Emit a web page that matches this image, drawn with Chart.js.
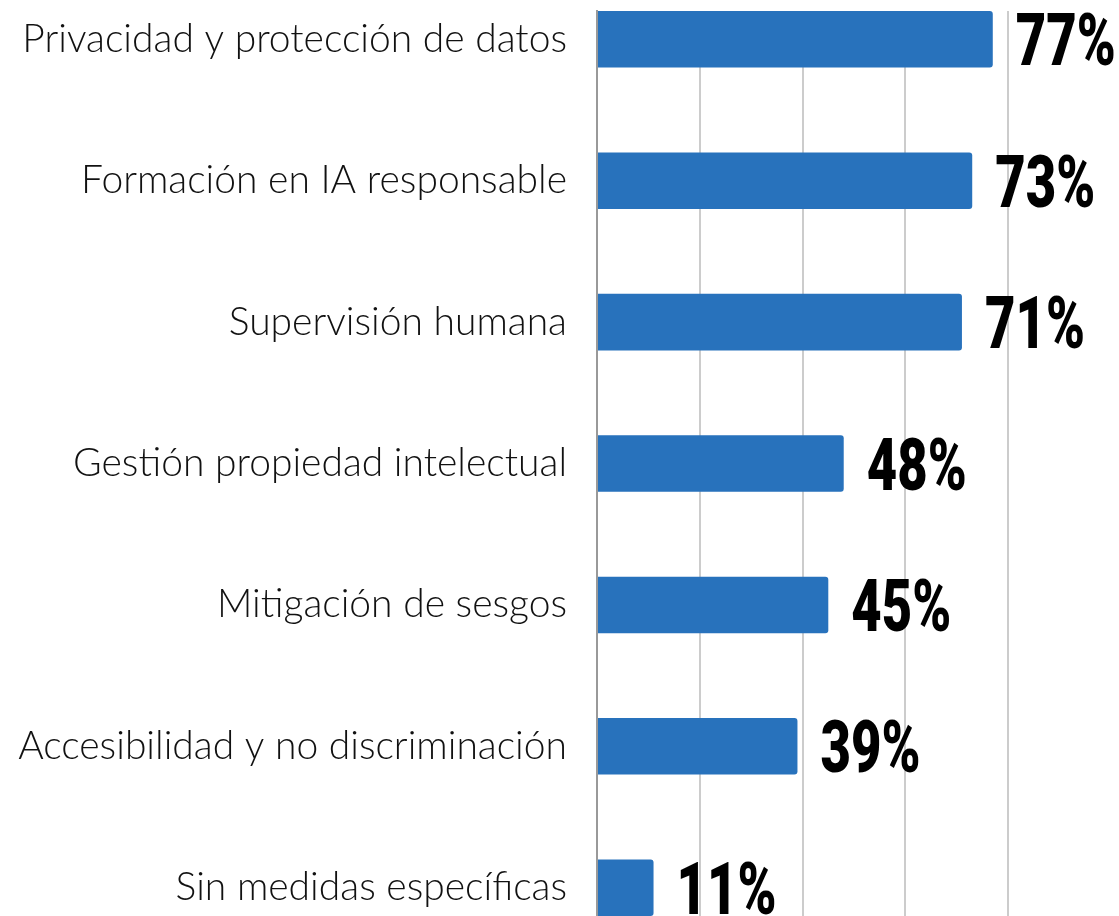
<!DOCTYPE html>
<html>
<head>
<meta charset="utf-8">
<script src="https://cdn.jsdelivr.net/npm/chart.js@4"></script>
<style>
  html, body { margin: 0; padding: 0; background: #fff; overflow: hidden; }
  #wrap { position: relative; width: 1119px; height: 916px; }
</style>
</head>
<body>
<div id="wrap"><canvas id="myChart"></canvas></div>
<script>
const categories = [
    'Privacidad y protección de datos',
    'Formación en IA responsable',
    'Supervisión humana',
    'Gestión propiedad intelectual',
    'Mitigación de sesgos',
    'Accesibilidad y no discriminación',
    'Sin medidas específicas'
];
const values = [77, 73, 71, 48, 45, 39, 11];
const xTicks = [0, 20, 40, 60, 80, 100];

// the category axis is a linear index scale so the first and last bar sit on the chart edges
const points = values.map((v, i) => ({ x: v, y: i }));

const valueLabels = {
    id: 'valueLabels',
    afterDatasetsDraw(chart) {
        const ctx = chart.ctx;
        const meta = chart.getDatasetMeta(0);
        ctx.save();
        ctx.fillStyle = '#000';
        ctx.font = '900 73px Roboto';
        ctx.textBaseline = 'alphabetic';
        ctx.textAlign = 'center';
        meta.data.forEach((bar, i) => {
            ctx.save();
            ctx.translate(bar.x + 73, bar.y + 26);
            ctx.scale(0.72, 1);
            ctx.fillText(values[i] + '%', 0, 0);
            ctx.restore();
        });
        ctx.restore();
    }
};

const ctx = document.getElementById('myChart');

new Chart(ctx, {
    type: 'bar',
    data: {
        datasets: [{
            data: points,
            backgroundColor: '#2872bc',
            borderRadius: 3,
            borderSkipped: 'start',
            categoryPercentage: 1,
            barPercentage: 0.4
        }]
    },
    options: {
        indexAxis: 'y',
        responsive: true,
        maintainAspectRatio: false,
        animation: false,
        events: [],
        layout: {
            padding: { top: 11, right: 8, bottom: 0, left: 0 }
        },
        scales: {
            x: {
                type: 'linear',
                min: 0,
                max: 100,
                afterBuildTicks: (scale) => {
                    scale.ticks = xTicks.map(v => ({ value: v }));
                },
                afterFit: (scale) => {
                    scale.height = 0;
                },
                ticks: { display: false },
                border: { display: false },
                grid: {
                    drawTicks: false,
                    lineWidth: 2,
                    color: (c) => (c.tick && c.tick.value === 100) ? 'rgba(0,0,0,0)' : '#cccccc'
                }
            },
            y: {
                type: 'linear',
                reverse: true,
                offset: false,
                min: -0.2,
                max: 6.2,
                afterBuildTicks: (scale) => {
                    scale.ticks = categories.map((_, i) => ({ value: i }));
                },
                afterFit: (scale) => {
                    scale.width = 597;
                    scale.paddingTop = 0;
                    scale.paddingBottom = 0;
                },
                ticks: {
                    autoSkip: false,
                    padding: 30,
                    color: '#111111',
                    font: { family: 'Lato', size: 39, weight: '300' },
                    callback: (v) => categories[v]
                },
                border: { display: true, color: '#999999', width: 2 },
                grid: { display: false, drawTicks: false }
            }
        },
        plugins: {
            legend: { display: false },
            tooltip: { enabled: false }
        }
    },
    plugins: [valueLabels]
});
</script>
</body>
</html>
